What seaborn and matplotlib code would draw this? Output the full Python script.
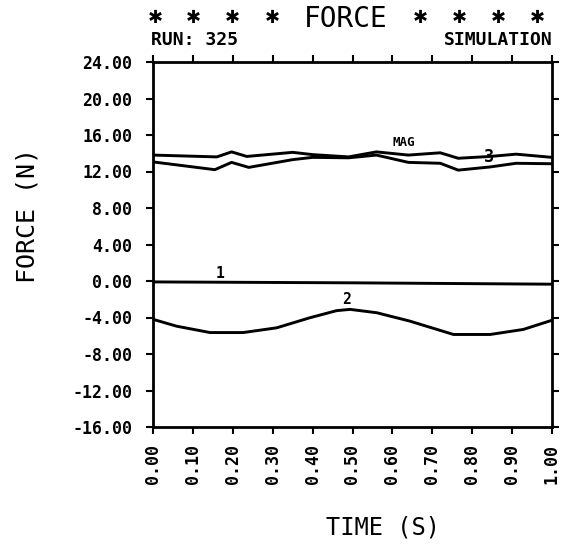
import numpy as np
import pandas as pd
import matplotlib
matplotlib.use("Agg")
import matplotlib.pyplot as plt
import seaborn as sns

# ---- data ----
t_mag = [0.0, 0.16, 0.197, 0.235, 0.35, 0.40, 0.49, 0.56, 0.64, 0.72, 0.765, 0.845, 0.91, 1.0]
f_mag = [13.8, 13.6, 14.15, 13.65, 14.1, 13.85, 13.6, 14.15, 13.8, 14.05, 13.45, 13.65, 13.9, 13.55]

t_3 = [0.0, 0.155, 0.197, 0.24, 0.35, 0.40, 0.49, 0.56, 0.64, 0.72, 0.765, 0.845, 0.91, 1.0]
f_3 = [13.05, 12.2, 13.0, 12.45, 13.3, 13.55, 13.5, 13.8, 13.0, 12.9, 12.15, 12.5, 12.9, 12.85]

t_1 = [0.0, 0.5, 1.0]
f_1 = [-0.1, -0.2, -0.35]

t_2 = [0.0, 0.059, 0.143, 0.226, 0.31, 0.393, 0.46, 0.494, 0.561, 0.644, 0.753, 0.845, 0.928, 1.0]
f_2 = [-4.2, -4.95, -5.65, -5.65, -5.13, -4.03, -3.25, -3.11, -3.48, -4.4, -5.86, -5.86, -5.31, -4.3]

x_ticks = [0.0, 0.1, 0.2, 0.3, 0.4, 0.5, 0.6, 0.7, 0.8, 0.9, 1.0]
x_labels = ["0.00", "0.10", "0.20", "0.30", "0.40", "0.50", "0.60", "0.70", "0.80", "0.90", "1.00"]
y_ticks = [-16, -12, -8, -4, 0, 4, 8, 12, 16, 20, 24]
y_labels = ["-16.00", "-12.00", "-8.00", "-4.00", "0.00", "4.00", "8.00", "12.00", "16.00", "20.00", "24.00"]

curve_labels = ["MAG", "3", "1", "2"]
label_t = [0.629, 0.842, 0.168, 0.486]
label_f = [15.2, 13.6, 0.8, -2.0]

sns.set_theme(style="white")
plt.rcParams["font.family"] = ["DejaVu Sans Mono", "DejaVu Sans"]

W, H = 564, 545
fig = plt.figure(figsize=(W / 100, H / 100), dpi=100)
ax = fig.add_axes([153 / W, 1 - 427 / H, (552 - 153) / W, (427 - 62) / H])

for t, f in [(t_mag, f_mag), (t_3, f_3), (t_1, f_1), (t_2, f_2)]:
    sns.lineplot(x=t, y=f, color="black", linewidth=2.1, ax=ax)

ax.set_xlim(0, 1)
ax.set_ylim(-16, 24)
ax.set_xticks(x_ticks)
ax.set_xticklabels(x_labels, rotation=90, fontweight="bold", fontsize=12)
ax.set_yticks(y_ticks)
ax.set_yticklabels(y_labels, fontweight="bold", fontsize=12)
ax.tick_params(axis="both", which="both", top=True, right=True, bottom=True, left=True,
               direction="out", length=5, width=1.5, colors="black", pad=7)
ax.tick_params(axis="y", pad=10)
for s in ax.spines.values():
    s.set_visible(True)
    s.set_color("black")
    s.set_linewidth(2)
ax.set_xlabel("")
ax.set_ylabel("")

for lab, tx, fy in zip(curve_labels, label_t, label_f):
    fs = 12 if lab == "3" else (9 if lab == "MAG" else 10.5)
    ax.text(tx, fy, lab, ha="center", va="center", fontsize=fs, fontweight="heavy", color="black")

# titles
fig.text(346 / W, 1 - 19 / H, "FORCE", ha="center", va="center", fontsize=20, color="black")
for xp in [155, 193, 232, 272, 420, 459, 498, 537]:
    fig.text(xp / W, 1 - 18 / H, "\u2731", ha="center", va="center", fontsize=13,
             fontweight="bold", color="black", family=["DejaVu Sans"])
fig.text(151 / W, 1 - 40 / H, "RUN: 325", ha="left", va="center", fontsize=13,
         fontweight="bold", color="black")
fig.text(553 / W, 1 - 40 / H, "SIMULATION", ha="right", va="center", fontsize=13,
         fontweight="bold", color="black")

fig.text(27 / W, 1 - 215 / H, "FORCE (N)", ha="center", va="center", rotation=90,
         fontsize=18, color="black")
fig.text(383 / W, 1 - 527 / H, "TIME (S)", ha="center", va="center", fontsize=17, color="black")

fig.savefig("out.png", dpi=100)
